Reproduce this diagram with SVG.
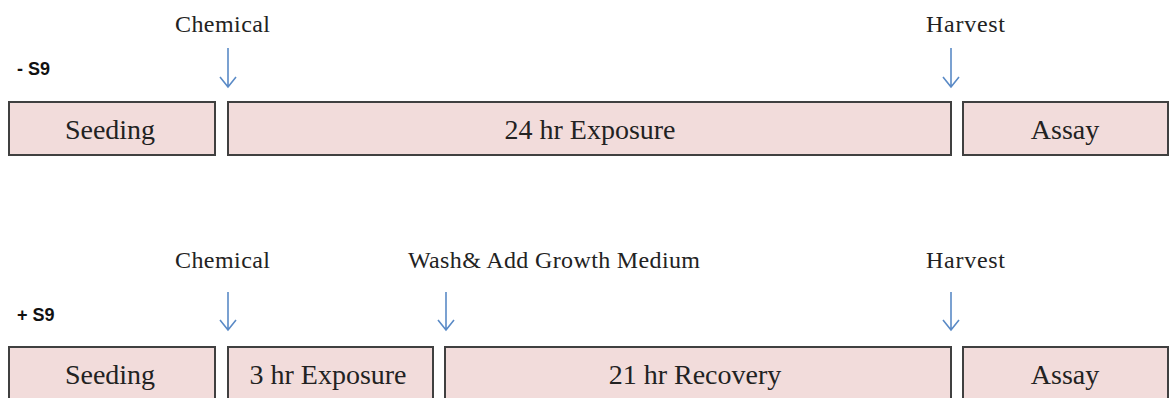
<svg xmlns="http://www.w3.org/2000/svg" width="1170" height="398" viewBox="0 0 1170 398">
<defs>
<style>
.box{fill:#f2dcdb;stroke:#404040;stroke-width:2}
.bt{font-family:"Liberation Serif",serif;font-size:28px;fill:#222;text-anchor:middle}
.lb{font-family:"Liberation Serif",serif;font-size:24px;fill:#222}
.s9{font-family:"Liberation Sans",Arial,sans-serif;font-size:18px;font-weight:bold;fill:#111}
.arr{stroke:#5a8ac6;stroke-width:1.6;fill:none}
</style>
</defs>
<rect width="1170" height="398" fill="#fff"/>
<text class="s9" x="17" y="75">- S9</text>
<text class="s9" x="17" y="321">+ S9</text>
<g id="labels">
<text class="lb" x="175" y="32" textLength="95">Chemical</text>
<text class="lb" x="926" y="32" textLength="79">Harvest</text>
<text class="lb" x="175" y="268" textLength="95">Chemical</text>
<text class="lb" x="408" y="268" textLength="292">Wash&amp; Add Growth Medium</text>
<text class="lb" x="926" y="268" textLength="79">Harvest</text>
</g>
<g id="connectors">
<path class="arr" d="M228 48V87M220 77L228 87L236 77"/>
<path class="arr" d="M951 48V87M943 77L951 87L959 77"/>
<path class="arr" d="M228 292V330M220 320L228 330L236 320"/>
<path class="arr" d="M446 292V330M438 320L446 330L454 320"/>
<path class="arr" d="M951 292V330M943 320L951 330L959 320"/>
</g>
<g id="n-seeding1"><rect class="box" x="9" y="102" width="206" height="53"/><text class="bt" x="110" y="139">Seeding</text></g>
<g id="n-exposure24"><rect class="box" x="228" y="102" width="723" height="53"/><text class="bt" x="590" y="139">24 hr Exposure</text></g>
<g id="n-assay1"><rect class="box" x="963" y="102" width="205" height="53"/><text class="bt" x="1065" y="139">Assay</text></g>
<g id="n-seeding2"><rect class="box" x="9" y="347" width="206" height="53"/><text class="bt" x="110" y="384">Seeding</text></g>
<g id="n-exposure3"><rect class="box" x="228" y="347" width="205" height="53"/><text class="bt" x="328" y="384">3 hr Exposure</text></g>
<g id="n-recovery"><rect class="box" x="445" y="347" width="506" height="53"/><text class="bt" x="695" y="384">21 hr Recovery</text></g>
<g id="n-assay2"><rect class="box" x="963" y="347" width="205" height="53"/><text class="bt" x="1065" y="384">Assay</text></g>
</svg>
